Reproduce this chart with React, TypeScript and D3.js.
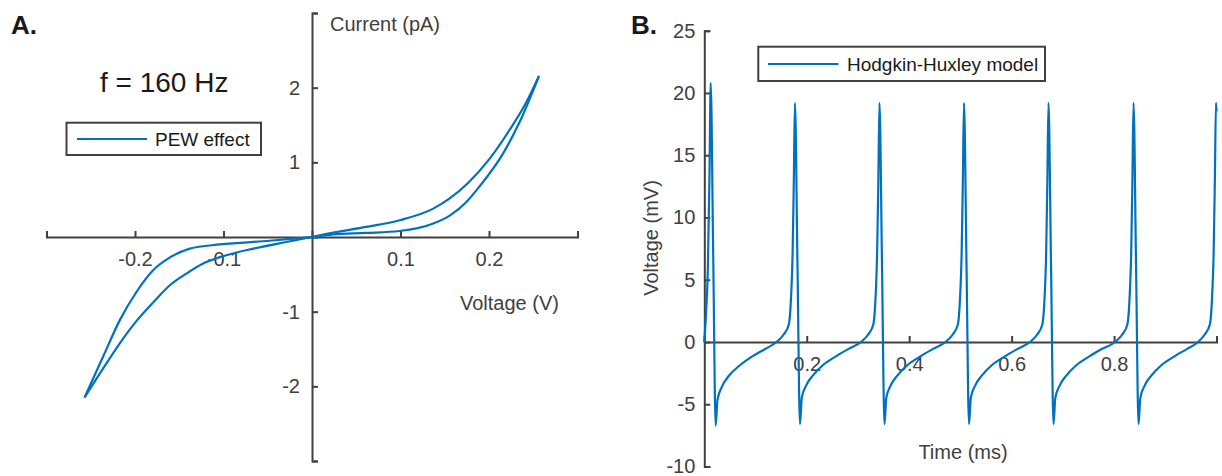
import { useEffect, useRef } from 'react';
import * as d3 from 'd3';

// Panel A: pinched hysteresis loop (PEW effect), voltage in V, current in pA
const rightUpperV = [0, 0.024, 0.061, 0.099, 0.137, 0.156, 0.176, 0.2008, 0.223, 0.242, 0.2565];
const rightUpperI = [0, 0.058, 0.135, 0.225, 0.38, 0.52, 0.72, 1.05, 1.43, 1.8, 2.156];
const rightLowerV = [0, 0.024, 0.061, 0.099, 0.137, 0.156, 0.1745, 0.1895, 0.216, 0.235, 0.2565];
const rightLowerI = [0, 0.035, 0.054, 0.08, 0.18, 0.29, 0.47, 0.68, 1.12, 1.55, 2.156];
const leftOuterV = [-0.257, -0.236, -0.217, -0.198, -0.179, -0.16, -0.138, -0.104, -0.048, 0];
const leftOuterI = [-2.15, -1.6, -1.11, -0.73, -0.44, -0.27, -0.155, -0.1, -0.05, 0];
const leftInnerV = [-0.257, -0.236, -0.217, -0.198, -0.179, -0.16, -0.142, -0.123, -0.104, -0.066, -0.029, 0];
const leftInnerI = [-2.15, -1.76, -1.42, -1.12, -0.87, -0.64, -0.49, -0.355, -0.27, -0.155, -0.067, 0];

const aXTicks = [-0.3, -0.2, -0.1, 0, 0.1, 0.2, 0.3];
const aXLabels = [-0.2, -0.1, 0.1, 0.2];
const aYTicks = [-3, -2, -1, 0, 1, 2, 3];
const aYLabels = [-2, -1, 1, 2];

// Panel B: Hodgkin-Huxley spike train, time in ms, voltage in mV
const hhTime = [
    0, 0.003, 0.007, 0.01, 0.0125, 0.0174, 0.0222, 0.0257, 0.0342, 0.0472, 0.0672, 0.0922, 0.1172, 0.141, 0.155, 0.165, 0.169, 0.1725, 0.1748, 0.177,
    0.1819, 0.1868, 0.1903, 0.1988, 0.2118, 0.2318, 0.2568, 0.2818, 0.306, 0.32, 0.33, 0.334, 0.3375, 0.3398, 0.342,
    0.3469, 0.3518, 0.3553, 0.3638, 0.3768, 0.3968, 0.4218, 0.4468, 0.471, 0.485, 0.495, 0.499, 0.5025, 0.5048, 0.507,
    0.5119, 0.5168, 0.5203, 0.5288, 0.5418, 0.5618, 0.5868, 0.6118, 0.636, 0.65, 0.66, 0.664, 0.6675, 0.6698, 0.672,
    0.6769, 0.6818, 0.6853, 0.6938, 0.7068, 0.7268, 0.7518, 0.7768, 0.802, 0.816, 0.826, 0.83, 0.8335, 0.8358, 0.838,
    0.8429, 0.8478, 0.8513, 0.8598, 0.8728, 0.8928, 0.9178, 0.9428, 0.964, 0.977, 0.987, 0.991, 0.9945, 0.9968, 0.999, 1.0,
];
const hhVoltage = [
    0, 2, 6, 13, 20.8, 7.0, -6.72, -4.65, -3.6, -2.75, -1.95, -1.2, -0.6, 0, 0.6, 1.4, 3.3, 7.3, 13, 19.2,
    6.3, -6.6, -4.5, -3.5, -2.7, -1.85, -1.15, -0.55, 0, 0.6, 1.4, 3.3, 7.3, 13, 19.2,
    6.3, -6.6, -4.5, -3.5, -2.7, -1.85, -1.15, -0.55, 0, 0.6, 1.4, 3.3, 7.3, 13, 19.2,
    6.3, -6.6, -4.5, -3.5, -2.7, -1.85, -1.15, -0.55, 0, 0.6, 1.4, 3.3, 7.3, 13, 19.2,
    6.3, -6.6, -4.5, -3.5, -2.7, -1.85, -1.15, -0.55, 0, 0.6, 1.4, 3.3, 7.3, 13, 19.2,
    6.3, -6.6, -4.5, -3.5, -2.7, -1.85, -1.15, -0.55, 0, 0.6, 1.4, 3.3, 7.3, 13, 19.2, 18.5,
];

const bXTicks = [0, 0.2, 0.4, 0.6, 0.8, 1.0];
const bXLabels = [0.2, 0.4, 0.6, 0.8];
const bYTicks = [-10, -5, 0, 5, 10, 15, 20, 25];

const WIDTH = 1222;
const HEIGHT = 476;
const LINE_COLOR = '#0072bd';
const INK = '#404040';
const FONT = '"Liberation Sans", Arial, Helvetica, sans-serif';

const zip = (xs: number[], ys: number[]): [number, number][] => xs.map((x, i) => [x, ys[i]]);

export default function App() {
    const svgRef = useRef<SVGSVGElement | null>(null);

    useEffect(() => {
        if (!svgRef.current) {
            return;
        }
        const svg = d3.select(svgRef.current);
        svg.selectAll('*').remove();

        const styleAxis = (g: d3.Selection<SVGGElement, unknown, null, undefined>) => {
            g.selectAll('path.domain').attr('stroke', INK).attr('stroke-width', 2);
            g.selectAll('.tick line').attr('stroke', INK).attr('stroke-width', 2);
            g.selectAll('.tick text').attr('fill', INK).attr('font-size', 20).attr('font-family', FONT);
        };

        // ---------- Panel A ----------
        const xA = d3.scaleLinear().domain([-0.3, 0.3]).range([46.5, 577.5]);
        const yA = d3.scaleLinear().domain([-3, 3]).range([461, 13]);

        const gxA = svg
            .append('g')
            .attr('transform', `translate(0, ${yA(0)})`)
            .call(
                d3
                    .axisBottom(xA)
                    .tickValues(aXTicks)
                    .tickSizeInner(-6)
                    .tickSizeOuter(-6)
                    .tickPadding(15)
                    .tickFormat((d) => (aXLabels.includes(+d) ? String(d) : ''))
            );
        styleAxis(gxA);

        const gyA = svg
            .append('g')
            .attr('transform', `translate(${xA(0)}, 0)`)
            .call(
                d3
                    .axisLeft(yA)
                    .tickValues(aYTicks)
                    .tickSizeInner(-6)
                    .tickSizeOuter(-6)
                    .tickPadding(12)
                    .tickFormat((d) => (aYLabels.includes(+d) ? String(d) : ''))
            );
        styleAxis(gyA);

        const lineA = d3
            .line<[number, number]>()
            .x((d) => xA(d[0]))
            .y((d) => yA(d[1]))
            .curve(d3.curveMonotoneX);

        const branches = [
            zip(rightUpperV, rightUpperI),
            zip(rightLowerV, rightLowerI),
            zip(leftOuterV, leftOuterI),
            zip(leftInnerV, leftInnerI),
        ];
        svg.append('g')
            .selectAll('path')
            .data(branches)
            .join('path')
            .attr('d', (d) => lineA(d))
            .attr('fill', 'none')
            .attr('stroke', LINE_COLOR)
            .attr('stroke-width', 2.2)
            .attr('stroke-linejoin', 'miter');

        const textA = svg.append('g').attr('font-family', FONT).attr('fill', INK);
        textA.append('text').text('A.').attr('x', 11).attr('y', 34).attr('font-size', 26).attr('font-weight', 700).attr('fill', '#1a1a1a');
        textA.append('text').text('Current (pA)').attr('x', 330).attr('y', 31).attr('font-size', 20);
        textA.append('text').text('Voltage (V)').attr('x', 460).attr('y', 310).attr('font-size', 20);
        textA.append('text').text('f = 160 Hz').attr('x', 100).attr('y', 92).attr('font-size', 28).attr('fill', '#1a1a1a');

        const legendA = svg.append('g');
        legendA
            .append('rect')
            .attr('x', 66.5)
            .attr('y', 122.7)
            .attr('width', 194.5)
            .attr('height', 32.3)
            .attr('fill', '#ffffff')
            .attr('stroke', INK)
            .attr('stroke-width', 2);
        legendA.append('line').attr('x1', 77).attr('x2', 147).attr('y1', 139).attr('y2', 139).attr('stroke', LINE_COLOR).attr('stroke-width', 2.2);
        legendA
            .append('text')
            .text('PEW effect')
            .attr('x', 155)
            .attr('y', 146)
            .attr('font-size', 19)
            .attr('font-family', FONT)
            .attr('fill', '#1a1a1a');

        // ---------- Panel B ----------
        const xB = d3.scaleLinear().domain([0, 1]).range([704.3, 1216.5]);
        const yB = d3.scaleLinear().domain([-10, 25]).range([466.5, 30.7]);

        const gyB = svg
            .append('g')
            .attr('transform', `translate(${xB(0)}, 0)`)
            .call(d3.axisLeft(yB).tickValues(bYTicks).tickSizeInner(-6).tickSizeOuter(-6).tickPadding(9).tickFormat((d) => String(d)));
        styleAxis(gyB);

        const gxB = svg
            .append('g')
            .attr('transform', `translate(0, ${yB(0)})`)
            .call(
                d3
                    .axisBottom(xB)
                    .tickValues(bXTicks)
                    .tickSizeInner(-6)
                    .tickSizeOuter(-6)
                    .tickPadding(15)
                    .tickFormat((d) => (bXLabels.includes(+d) ? String(d) : ''))
            );
        styleAxis(gxB);

        const lineB = d3
            .line<[number, number]>()
            .x((d) => xB(d[0]))
            .y((d) => yB(d[1]))
            .curve(d3.curveMonotoneX);

        svg.append('path')
            .attr('d', lineB(zip(hhTime, hhVoltage)))
            .attr('fill', 'none')
            .attr('stroke', LINE_COLOR)
            .attr('stroke-width', 2.2);

        const textB = svg.append('g').attr('font-family', FONT).attr('fill', INK);
        textB.append('text').text('B.').attr('x', 631).attr('y', 34).attr('font-size', 26).attr('font-weight', 700).attr('fill', '#1a1a1a');
        textB.append('text').text('Time (ms)').attr('x', 963).attr('y', 459).attr('font-size', 20).attr('text-anchor', 'middle');
        textB
            .append('text')
            .text('Voltage (mV)')
            .attr('transform', 'translate(658, 238) rotate(-90)')
            .attr('font-size', 20)
            .attr('text-anchor', 'middle');

        const legendB = svg.append('g');
        legendB
            .append('rect')
            .attr('x', 758.3)
            .attr('y', 46.7)
            .attr('width', 286.7)
            .attr('height', 34.3)
            .attr('fill', '#ffffff')
            .attr('stroke', INK)
            .attr('stroke-width', 2);
        legendB.append('line').attr('x1', 768).attr('x2', 838.5).attr('y1', 64).attr('y2', 64).attr('stroke', LINE_COLOR).attr('stroke-width', 2.2);
        legendB
            .append('text')
            .text('Hodgkin-Huxley model')
            .attr('x', 847)
            .attr('y', 71)
            .attr('font-size', 19)
            .attr('font-family', FONT)
            .attr('fill', '#1a1a1a');
    }, []);

    return (
        <div style={{ position: 'fixed', left: 0, top: 0, width: WIDTH, height: HEIGHT, background: '#ffffff' }}>
            <svg ref={svgRef} width={WIDTH} height={HEIGHT} viewBox={`0 0 ${WIDTH} ${HEIGHT}`} style={{ display: 'block' }} />
        </div>
    );
}
